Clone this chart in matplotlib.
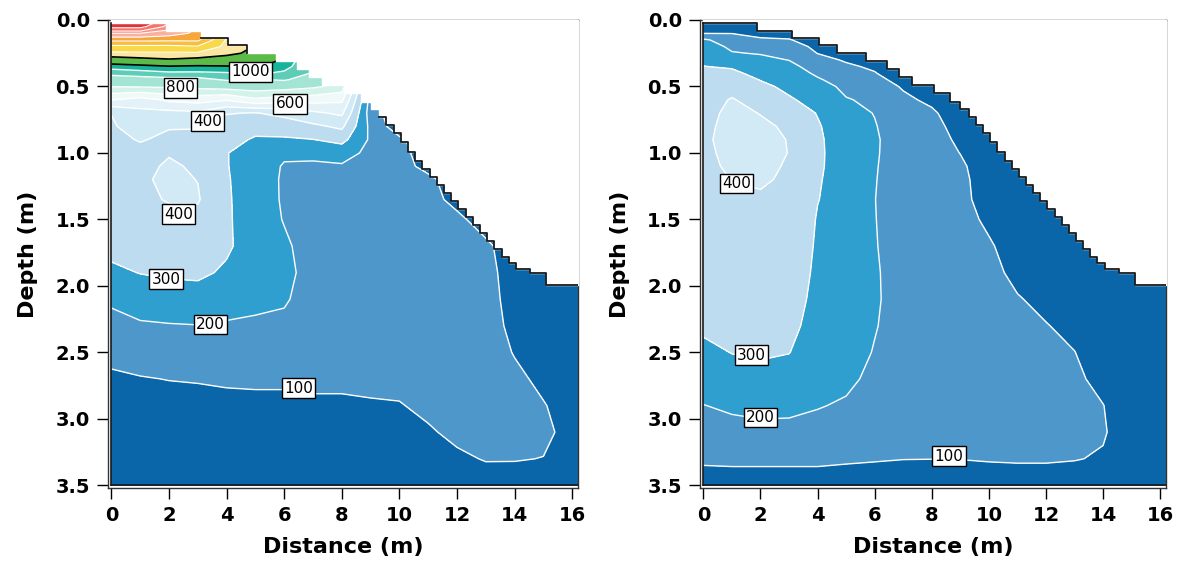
import matplotlib.pyplot as plt
import numpy as np
from matplotlib.ticker import FormatStrFormatter

plt.rcParams['font.family'] = 'DejaVu Sans'

# grid the values were read on (m)
distance = [0, 1, 2, 3, 4, 5, 6, 7, 8, 9, 10, 11, 12, 13, 14, 15, 16.2]
depth = [0, 0.05, 0.1, 0.15, 0.2, 0.25, 0.3, 0.35, 0.4, 0.45, 0.5, 0.6, 0.7, 0.8,
         0.9, 1.0, 1.1, 1.2, 1.35, 1.5, 1.7, 1.9, 2.1, 2.3, 2.5, 2.7, 2.9, 3.1, 3.3, 3.5]

# stepped ground surface (same for both panels)
surface_x = [0, 1.89, 3.11, 4.06, 4.69, 5.70, 6.43, 6.85, 7.31, 8.08, 8.65, 9.0, 9.3,
             9.55, 9.8, 10.05, 10.3, 10.55, 10.8, 11.05, 11.3, 11.55, 11.8, 12.05,
             12.3, 12.55, 12.8, 13.05, 13.3, 13.55, 13.8, 14.05, 14.55, 15.1, 16.2]
surface_depth = [0.02, 0.08, 0.135, 0.19, 0.25, 0.31, 0.37, 0.43, 0.49, 0.55, 0.62, 0.67,
                 0.73, 0.79, 0.85, 0.92, 0.99, 1.06, 1.12, 1.18, 1.24, 1.30, 1.36, 1.42,
                 1.48, 1.54, 1.60, 1.66, 1.72, 1.78, 1.83, 1.87, 1.90, 1.99, 1.99]

# left panel values, one list per distance column (top -> bottom)
left_cols = [
    [3000, 2600, 2000, 1650, 1350, 1160, 1050, 970, 920, 860, 805, 605, 402, 390, 380,
     375, 370, 365, 360, 350, 330, 280, 215, 170, 125, 85, 60, 50, 40, 30],
    [3000, 2600, 2000, 1650, 1350, 1170, 1070, 980, 930, 870, 810, 560, 470, 440, 405,
     380, 380, 385, 385, 365, 350, 303, 240, 190, 140, 95, 65, 50, 40, 30],
    [2300, 2100, 1900, 1640, 1350, 1170, 1090, 995, 940, 880, 815, 620, 470, 405, 385,
     395, 410, 420, 405, 380, 350, 315, 250, 195, 145, 102, 70, 55, 45, 35],
    [1810, 1810, 1750, 1640, 1380, 1170, 1070, 990, 940, 880, 830, 640, 480, 405, 380,
     370, 390, 398, 408, 375, 360, 320, 255, 198, 150, 105, 75, 60, 45, 35],
    [1210, 1210, 1210, 1180, 1150, 1120, 1060, 995, 945, 905, 850, 610, 405, 360, 330,
     302, 303, 306, 310, 312, 315, 285, 240, 190, 150, 110, 80, 60, 45, 35],
    [1095, 1095, 1095, 1095, 1095, 1080, 1050, 1010, 960, 895, 860, 680, 395, 330, 290,
     275, 265, 262, 255, 252, 250, 240, 215, 190, 150, 112, 82, 60, 45, 35],
    [995, 995, 995, 995, 995, 995, 990, 970, 940, 905, 850, 650, 430, 340, 290,
     220, 190, 185, 188, 195, 215, 225, 210, 180, 150, 110, 85, 62, 45, 35],
    [895] * 9 + [870, 820, 640, 480, 380, 298, 230, 180, 165, 160, 158, 160, 165, 160,
                 150, 135, 115, 88, 65, 50, 40],
    [850] * 9 + [820, 760, 620, 520, 420, 330, 240, 190, 170, 160, 155, 155, 155, 150,
                 145, 135, 115, 88, 70, 55, 45],
    [160] * 12 + [150, 175, 185, 175, 165, 160, 155, 152, 150, 150, 148, 145, 138, 120,
                  92, 78, 60, 45],
    [30] * 13 + [40, 120, 145, 150, 150, 150, 150, 150, 148, 145, 142, 138, 125, 95,
                 80, 60, 45],
    [30] * 16 + [60, 130, 148, 150, 150, 150, 148, 145, 140, 135, 120, 90, 65, 50],
    [30] * 18 + [60, 130, 148, 150, 150, 148, 145, 140, 135, 120, 85, 55],
    [30] * 19 + [40, 125, 135, 140, 142, 145, 145, 145, 140, 105, 60],
    [30] * 21 + [50, 60, 75, 95, 120, 135, 135, 105, 55],
    [30] * 22 + [40, 50, 60, 80, 105, 120, 98, 50],
    [30] * 26 + [55, 60, 50, 40],
]

# right panel values
right_cols = [
    [40, 70, 98, 215, 240, 260, 280, 302, 320, 340, 355, 370, 380, 385, 390,
     388, 385, 380, 375, 370, 360, 350, 335, 315, 280, 250, 198, 160, 120, 40],
    [40, 70, 98, 150, 185, 205, 250, 290, 320, 350, 375, 405, 415, 420, 420,
     415, 410, 401, 390, 380, 370, 360, 345, 325, 302, 265, 215, 170, 125, 40],
    [40, 50, 80, 110, 160, 195, 220, 245, 270, 297, 320, 370, 398, 410, 415,
     415, 410, 410, 390, 380, 370, 362, 350, 335, 310, 275, 225, 175, 125, 40],
    [40, 40, 70, 105, 140, 170, 198, 225, 245, 262, 280, 310, 350, 392, 398,
     399, 396, 388, 370, 362, 355, 345, 335, 322, 302, 265, 222, 175, 125, 40],
    [40, 40, 40, 60, 80, 98, 130, 160, 185, 210, 235, 270, 296, 308, 312,
     312, 310, 306, 302, 295, 290, 285, 278, 268, 255, 240, 205, 170, 125, 40],
    [40, 40, 40, 40, 40, 60, 90, 115, 140, 160, 180, 205, 230, 250, 260,
     265, 268, 270, 270, 270, 268, 265, 260, 250, 238, 218, 190, 160, 115, 40],
    [40, 40, 40, 40, 40, 40, 60, 85, 105, 125, 150, 185, 197, 205, 210,
     208, 205, 203, 201, 202, 204, 208, 210, 205, 195, 180, 165, 145, 108, 40],
    [40] * 9 + [70, 90, 120, 140, 150, 158, 162, 165, 166, 168, 168, 168, 168, 166,
                164, 160, 155, 148, 135, 102, 40],
    [40] * 10 + [50, 80, 115, 135, 145, 152, 156, 158, 160, 160, 160, 160, 158, 156,
                 154, 150, 145, 132, 101, 40],
    [40] * 12 + [45, 60, 80, 98, 118, 130, 140, 148, 152, 155, 155, 155, 153, 150,
                 145, 132, 102, 40],
    [40] * 19 + [75, 115, 135, 145, 150, 150, 148, 145, 132, 108, 40],
    [40] * 21 + [70, 108, 130, 140, 142, 142, 130, 112, 40],
    [40] * 22 + [70, 105, 125, 135, 138, 130, 112, 40],
    [40] * 23 + [70, 102, 120, 128, 125, 105, 40],
    [40] * 25 + [70, 102, 110, 90, 40],
    [40] * 30,
    [40] * 30,
]

left_levels = [0, 100, 200, 300, 400, 500, 600, 700, 800, 900, 950, 1000, 1100, 1200,
               1400, 1600, 1800, 2000, 2200, 2500, 3200]
right_levels = [0, 100, 200, 300, 400, 500]

band_colors = ['#0a66a9', '#4e97cb', '#2f9fcf', '#bedcef', '#d2eaf5', '#e3f2f8',
               '#f0f9f9', '#d2f2ea', '#a3e4d4', '#5ecdb8', '#17b49c', '#5cba48',
               '#fbe7a4', '#f9d84a', '#f7bf3c', '#f6a63a', '#f9b09c', '#f8907f',
               '#f4746a', '#e0323c']

left_labels = [('1000', 4.83, 0.39), ('800', 2.4, 0.51), ('600', 6.2, 0.63),
               ('400', 3.33, 0.76), ('400', 2.33, 1.46), ('300', 1.9, 1.95),
               ('200', 3.44, 2.29), ('100', 6.5, 2.77)]
right_labels = [('400', 1.15, 1.23), ('300', 1.68, 2.52), ('200', 2.0, 2.99),
                ('100', 8.6, 3.28)]


def panel(ax, cols, levels, labels, outline):
    z = np.array(cols, dtype=float).T
    ax.contourf(distance, depth, z, levels=levels,
                colors=band_colors[:len(levels) - 1], zorder=1)
    inner = levels[1:-1]
    lc = ['black' if lv in (1000, 1100) else 'white' for lv in inner]
    lw = [1.2 if lv in (1000, 1100) else (1.0 if lv < 1000 else 0.8) for lv in inner]
    ax.contour(distance, depth, z, levels=inner, colors=lc, linewidths=lw, zorder=2)

    # blank out the air above the ground
    ax.fill_between(surface_x, -0.1, surface_depth, step='post', color='white', zorder=3)
    sx = np.array(surface_x)
    sd = np.array(surface_depth)
    for m in outline:
        ax.step(sx[m], sd[m], where='post', color='#1a1a1a', lw=1.3, zorder=4)
    ax.plot([distance[0], distance[0]], [surface_depth[0], depth[-1]],
            color='#1a1a1a', lw=1.2, zorder=4)
    ax.plot([distance[0], distance[-1]], [depth[-1], depth[-1]],
            color='#1a1a1a', lw=1.2, zorder=4)

    for txt, x, d in labels:
        ax.text(x, d, txt, ha='center', va='center', fontsize=11, zorder=6,
                bbox=dict(boxstyle='square,pad=0.15', fc='white', ec='black', lw=1))

    ax.set_xlim(-0.12, 16.2)
    ax.set_ylim(3.52, 0)
    ax.set_xticks(range(0, 17, 2))
    ax.set_yticks(np.arange(0, 3.6, 0.5))
    ax.yaxis.set_major_formatter(FormatStrFormatter('%.1f'))
    ax.tick_params(direction='out', length=8, width=1, labelsize=14, pad=5)
    for lbl in ax.get_xticklabels() + ax.get_yticklabels():
        lbl.set_fontweight('bold')
    for sp in ax.spines.values():
        sp.set_color('#333333')
        sp.set_linewidth(1.0)
    ax.set_xlabel('Distance (m)', fontsize=16, fontweight='bold')
    ax.set_ylabel('Depth (m)', fontsize=16, fontweight='bold')
    ax.xaxis.set_label_coords(0.5, -0.105)
    ax.yaxis.set_label_coords(-0.15, 0.5)


fig = plt.figure(figsize=(11.79, 5.63), dpi=100)
ax1 = fig.add_axes([0.0916, 0.1332, 0.3986, 0.8313])
ax2 = fig.add_axes([0.5937, 0.1332, 0.3952, 0.8313])

sx_all = np.array(surface_x)
panel(ax1, left_cols, left_levels, left_labels,
      [(sx_all >= 3.1) & (sx_all <= 4.7), sx_all >= 9.3])
panel(ax2, right_cols, right_levels, right_labels, [sx_all >= 0])

fig.savefig('out.png', dpi=100)
